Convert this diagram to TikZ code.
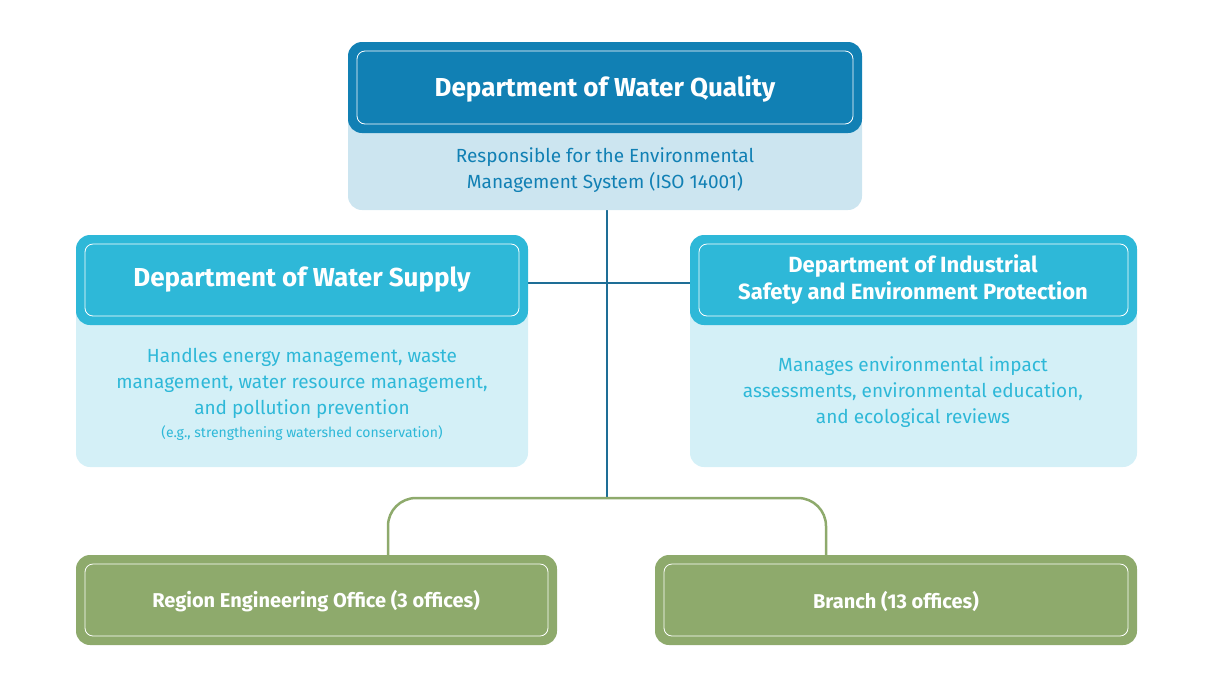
\documentclass[tikz,border=0pt]{standalone}
\usepackage{fontspec}
\setmainfont{Fira Sans}
\definecolor{dblue}{HTML}{1180B4}
\definecolor{lblue}{HTML}{CCE5F0}
\definecolor{cyanb}{HTML}{2EB8D8}
\definecolor{lcyan}{HTML}{D4F0F7}
\definecolor{greenb}{HTML}{8EAA6C}
\definecolor{linec}{HTML}{1E6E96}
\begin{document}
\begin{tikzpicture}[x=1pt,y=-1pt,
  head/.style={rounded corners=12pt,line width=0pt},
  inner/.style={draw=white,line width=0.8pt,rounded corners=8pt},
  t/.style={align=center,font=\fontsize{19}{26}\selectfont}]
\useasboundingbox (0,0) rectangle (1213,689);
% lines
\coordinate (vt) at (607,210);
\coordinate (vb) at (607,498);
\draw[linec,line width=2pt] (vt) -- (vb);
\draw[linec,line width=2pt] (528,283) -- (690,283);
\draw[greenb,line width=2.5pt,rounded corners=28pt] (388,555) -- (388,498) -- (826,498) -- (826,555);
% top
\fill[lblue,rounded corners=14pt] (348,110) rectangle (862,210);
\fill[dblue,rounded corners=14pt] (348,42) rectangle (862,133);
\draw[inner] (357,51) rectangle (853,124);
\node[t,font=\fontsize{26}{30}\selectfont\bfseries,text=white] (wq) at (605,89) {Department of Water Quality};
\node[t,text=dblue] (wqd) at (605,170) {Responsible for the Environmental\\Management System (ISO 14001)};
% left
\fill[lcyan,rounded corners=14pt] (76,300) rectangle (528,467);
\fill[cyanb,rounded corners=14pt] (76,235) rectangle (528,325);
\draw[inner] (85,244) rectangle (519,316);
\node[t,font=\fontsize{26}{30}\selectfont\bfseries,text=white] (ws) at (302,280) {Department of Water Supply};
\node[t,text=cyanb] (wsd) at (302,383) {Handles energy management, waste\\management, water resource management,\\and pollution prevention};
\node[text=cyanb,font=\fontsize{14}{16}\selectfont] (wse) at (302,433) {(e.g., strengthening watershed conservation)};
% right
\fill[lcyan,rounded corners=14pt] (690,300) rectangle (1137,467);
\fill[cyanb,rounded corners=14pt] (690,235) rectangle (1137,325);
\draw[inner] (699,244) rectangle (1128,316);
\node[t,font=\fontsize{22}{27}\selectfont\bfseries,text=white] (is) at (913,280) {Department of Industrial\\Safety and Environment Protection};
\node[t,text=cyanb] (isd) at (913,392) {Manages environmental impact\\assessments, environmental education,\\and ecological reviews};
% green
\fill[greenb,rounded corners=14pt] (76,555) rectangle (557,645);
\draw[inner] (85,564) rectangle (548,636);
\node[t,font=\fontsize{20}{24}\selectfont\bfseries,text=white] (re) at (316,601) {Region Engineering Office (3 offices)};
\fill[greenb,rounded corners=14pt] (655,555) rectangle (1137,645);
\draw[inner] (664,564) rectangle (1128,636);
\node[t,font=\fontsize{20}{24}\selectfont\bfseries,text=white] (br) at (896,601) {Branch (13 offices)};
\end{tikzpicture}
\end{document}
